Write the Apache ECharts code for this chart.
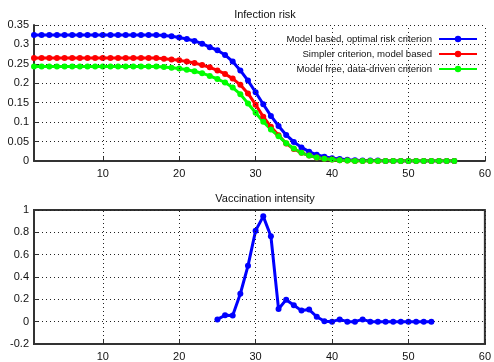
<!DOCTYPE html>
<html>
<head>
<meta charset="utf-8">
<script src="https://cdn.jsdelivr.net/npm/echarts@6/dist/echarts.min.js"></script>
<style>
  html, body { margin: 0; padding: 0; background: #fff; }
  #chart { width: 494px; height: 362px; }
</style>
</head>
<body>
<div id="chart"></div>
<script>
// infection risk per day (day 1..56)
const riskStartDay = 1
const riskModelBased = [
  0.324, 0.324, 0.324, 0.324, 0.324, 0.324, 0.324, 0.324, 0.324, 0.324,
  0.324, 0.324, 0.324, 0.324, 0.324, 0.324, 0.324, 0.323, 0.321, 0.318,
  0.314, 0.309, 0.302, 0.293, 0.285, 0.273, 0.256, 0.233, 0.207, 0.177,
  0.146, 0.116, 0.090, 0.067, 0.049, 0.035, 0.024, 0.016, 0.011, 0.007,
  0.005, 0.003, 0.002, 0.001, 0.001, 0.001, 0, 0, 0, 0,
  0, 0, 0, 0, 0, 0
]
const riskSimpler = [
  0.265, 0.265, 0.265, 0.265, 0.265, 0.265, 0.265, 0.265, 0.265, 0.265,
  0.265, 0.265, 0.265, 0.265, 0.265, 0.265, 0.265, 0.263, 0.261, 0.259,
  0.256, 0.252, 0.247, 0.241, 0.233, 0.224, 0.212, 0.196, 0.174, 0.145,
  0.114, 0.088, 0.066, 0.045, 0.031, 0.021, 0.014, 0.009, 0.006, 0.004,
  0.002, 0.001, 0, 0, 0, 0, 0, 0, 0, 0,
  0, 0, 0, 0, 0, 0
]
const riskModelFree = [
  0.243, 0.243, 0.243, 0.243, 0.243, 0.243, 0.243, 0.243, 0.243, 0.243,
  0.243, 0.243, 0.243, 0.243, 0.243, 0.243, 0.243, 0.242, 0.240, 0.238,
  0.235, 0.231, 0.226, 0.219, 0.211, 0.202, 0.189, 0.172, 0.148, 0.124,
  0.101, 0.081, 0.064, 0.046, 0.032, 0.021, 0.014, 0.009, 0.006, 0.004,
  0.002, 0.001, 0, 0, 0, 0, 0, 0, 0, 0,
  0, 0, 0, 0, 0, 0
]
// vaccination intensity per day (day 25..53)
const vaccStartDay = 25
const vaccination = [
  0.02, 0.057, 0.055, 0.25, 0.50, 0.815, 0.943, 0.765, 0.113, 0.197,
  0.147, 0.099, 0.108, 0.044, 0.003, 0, 0.02, 0, 0, 0.02,
  0, 0, 0, 0, 0, 0, 0, 0, 0
]
const seriesNames = [
  'Model based, optimal risk criterion',
  'Simpler criterion, model based',
  'Model free, data-driven criterion'
]
const xTicks = [10, 20, 30, 40, 50, 60]

const toPairs = (arr, start) => arr.map((v, i) => [start + i, v])

const FONT = 'Liberation Sans'
const axisColor = '#333'
const dotted = { show: true, lineStyle: { color: '#222', type: [1, 3], width: 1 } }

function xAxisFor(gridIndex) {
  return {
    gridIndex,
    type: 'value',
    min: 1,
    max: 60,
    axisLine: { show: true, onZero: false, lineStyle: { color: axisColor, width: 2 } },
    axisTick: { show: true, inside: true, length: 4, customValues: xTicks, lineStyle: { color: axisColor } },
    axisLabel: { customValues: xTicks, color: '#111', fontSize: 11, fontFamily: FONT, margin: 7 },
    splitLine: { show: false }
  }
}

const lineSeries = (name, color, data) => ({
  name,
  type: 'line',
  xAxisIndex: 0,
  yAxisIndex: 0,
  data,
  symbol: 'circle',
  symbolSize: 6,
  showSymbol: true,
  color,
  lineStyle: { color, width: 3 },
  itemStyle: { color },
  animation: false
})

const legendTops = [34, 49, 64]

const option = {
  animation: false,
  textStyle: { fontFamily: FONT },
  title: [
    { text: 'Infection risk', left: 260, top: 4, textAlign: 'center',
      textStyle: { fontSize: 11, fontWeight: 'normal', color: '#111', fontFamily: FONT } },
    { text: 'Vaccination intensity', left: 260, top: 188, textAlign: 'center',
      textStyle: { fontSize: 11, fontWeight: 'normal', color: '#111', fontFamily: FONT } }
  ],
  legend: seriesNames.map((n, i) => ({
    data: [n],
    right: 16,
    top: legendTops[i],
    align: 'right',
    itemWidth: 38,
    itemHeight: 8,
    itemGap: 4,
    padding: 0,
    textStyle: { fontSize: 9.6, color: '#111', fontFamily: FONT, padding: [0, 2, 0, 0] }
  })),
  grid: [
    { left: 34, width: 452, top: 25, height: 136 },
    { left: 34, width: 452, top: 210, height: 135, show: true, borderColor: axisColor, borderWidth: 2, backgroundColor: 'transparent' }
  ],
  xAxis: [xAxisFor(0), xAxisFor(1)],
  yAxis: [
    {
      gridIndex: 0,
      type: 'value',
      min: 0,
      max: 0.35,
      interval: 0.05,
      axisLine: { show: true, lineStyle: { color: axisColor, width: 2 } },
      axisTick: { show: true, inside: true, length: 4, lineStyle: { color: axisColor } },
      axisLabel: { color: '#111', fontSize: 11, fontFamily: FONT, margin: 5 },
      splitLine: dotted
    },
    {
      gridIndex: 1,
      type: 'value',
      min: -0.2,
      max: 1,
      interval: 0.2,
      axisLine: { show: true, lineStyle: { color: axisColor, width: 2 } },
      axisTick: { show: true, inside: true, length: 4, lineStyle: { color: axisColor } },
      axisLabel: { color: '#111', fontSize: 11, fontFamily: FONT, margin: 5,
        formatter: v => String(Math.round(v * 10) / 10) },
      splitLine: dotted
    }
  ],
  series: [
    lineSeries(seriesNames[0], '#0000ff', toPairs(riskModelBased, riskStartDay)),
    lineSeries(seriesNames[1], '#ff0000', toPairs(riskSimpler, riskStartDay)),
    lineSeries(seriesNames[2], '#00ff00', toPairs(riskModelFree, riskStartDay)),
    // vertical dotted grid lines at the x ticks (top and bottom panels)
    {
      type: 'line', xAxisIndex: 0, yAxisIndex: 0, data: [], silent: true,
      markLine: { symbol: 'none', silent: true, label: { show: false },
        lineStyle: { color: '#222', type: [1, 3], width: 1 },
        data: xTicks.map(t => ({ xAxis: t })) }
    },
    {
      type: 'line', xAxisIndex: 1, yAxisIndex: 1, data: [], silent: true,
      markLine: { symbol: 'none', silent: true, label: { show: false },
        lineStyle: { color: '#222', type: [1, 3], width: 1 },
        data: xTicks.map(t => ({ xAxis: t })) }
    },
    {
      name: 'Vaccination intensity',
      type: 'line',
      xAxisIndex: 1,
      yAxisIndex: 1,
      data: toPairs(vaccination, vaccStartDay),
      symbol: 'circle',
      symbolSize: 6,
      color: '#0000ff',
      lineStyle: { color: '#0000ff', width: 3 },
      itemStyle: { color: '#0000ff' }
    }
  ]
}

const chart = echarts.init(document.getElementById('chart'), null, { renderer: 'canvas' })
chart.setOption(option)
</script>
</body>
</html>
